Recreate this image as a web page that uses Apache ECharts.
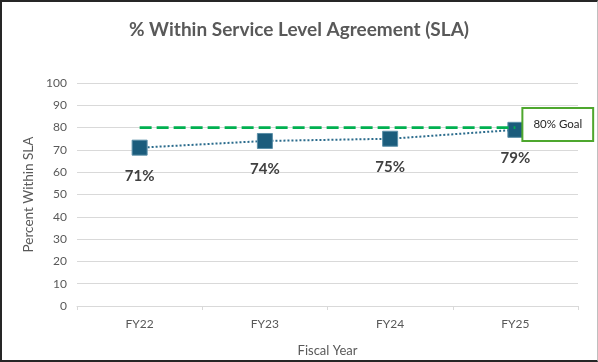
<!DOCTYPE html>
<html>
<head>
<meta charset="utf-8">
<script src="https://cdn.jsdelivr.net/npm/echarts@6/dist/echarts.min.js"></script>
<style>
html,body{margin:0;padding:0;background:#fff;}
#frame{position:absolute;left:0;top:0;width:598px;height:362px;box-sizing:border-box;border-left:2px solid #262626;border-top:2px solid #262626;border-bottom:2px solid #262626;border-right:1px solid #bfbfbf;}
#chart{position:absolute;left:0;top:0;width:598px;height:362px;}
</style>
</head>
<body>
<div id="chart"></div>
<div id="frame"></div>
<script>
const categories = ['FY22', 'FY23', 'FY24', 'FY25'];
const slaValues = [71, 74, 75, 79];
const goalValues = [80, 80, 80, 80];
const goalLabel = '80% Goal';
const yTicks = { min: 0, max: 100, interval: 10 };

const FONT = 'Lato, "Open Sans", sans-serif';
const chart = echarts.init(document.getElementById('chart'), null, { renderer: 'canvas' });
chart.setOption({
  animation: false,
  backgroundColor: '#ffffff',
  title: {
    text: '% Within Service Level Agreement (SLA)',
    left: 'center',
    top: 15,
    textStyle: { fontFamily: FONT, fontSize: 19, fontWeight: 'bold', color: '#595959' }
  },
  grid: { left: 77, right: 20, top: 83, bottom: 52 },
  xAxis: {
    type: 'category',
    data: categories,
    boundaryGap: true,
    name: 'Fiscal Year',
    nameLocation: 'middle',
    nameGap: 38,
    nameTextStyle: { fontFamily: FONT, fontSize: 13, color: '#595959' },
    axisLine: { lineStyle: { color: '#d9d9d9', width: 1 } },
    axisTick: { show: true, length: 4, lineStyle: { color: '#d9d9d9' } },
    axisLabel: { fontFamily: FONT, fontSize: 12, color: '#595959', margin: 12 }
  },
  yAxis: {
    type: 'value',
    min: yTicks.min, max: yTicks.max, interval: yTicks.interval,
    name: 'Percent Within SLA',
    nameLocation: 'middle',
    nameGap: 36,
    nameTextStyle: { fontFamily: FONT, fontSize: 13.5, color: '#595959' },
    axisLine: { show: false },
    axisTick: { show: false },
    axisLabel: { fontFamily: FONT, fontSize: 12, color: '#595959', margin: 10 },
    splitLine: { lineStyle: { color: '#d9d9d9', width: 1 } }
  },
  series: [
    {
      name: 'Goal',
      type: 'line',
      data: goalValues,
      symbol: 'none',
      lineStyle: { color: '#00b050', width: 2.7, type: [12, 5] },
      endLabel: {
        show: true, distance: 8, offset: [0, -3],
        formatter: goalLabel,
        fontFamily: FONT, fontSize: 11.5, color: '#262626',
        backgroundColor: '#ffffff', borderColor: '#4ea72e', borderWidth: 2,
        padding: [10, 10, 9, 10]
      },
      z: 3
    },
    {
      name: 'SLA',
      type: 'line',
      data: slaValues,
      symbol: 'rect',
      symbolSize: 15,
      itemStyle: { color: '#1b5c7c', borderColor: '#5b8fa8', borderWidth: 1 },
      lineStyle: { color: '#2a6b8c', width: 2, type: [2, 2] },
      label: {
        show: true, position: 'bottom', distance: 13,
        formatter: p => p.value + '%',
        fontFamily: FONT, fontSize: 15, fontWeight: 'bold', color: '#404040'
      },
      z: 2
    }
  ]
});
</script>
</body>
</html>
